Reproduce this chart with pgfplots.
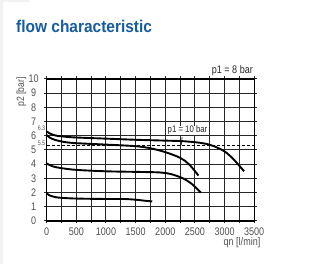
\documentclass[border=0pt]{standalone}
\usepackage{fontspec}
\setmainfont{Liberation Sans}[FakeStretch=0.82]
\newfontfamily\titlefont{Liberation Sans}[FakeStretch=0.91]
\usepackage{pgfplots}
\pgfplotsset{compat=1.18}
\definecolor{titleblue}{RGB}{22,92,160}
\definecolor{lbl}{RGB}{80,80,80}
\definecolor{gridc}{RGB}{40,40,40}
\begin{document}
\begin{tikzpicture}[x=1pt,y=1pt]
\useasboundingbox (0,0) rectangle (320,264);
\fill[gray!10] (0,0) rectangle (2.5,264);
\fill[gray!10] (0,261.5) rectangle (30,264);
\node[anchor=base west, inner sep=0, text=titleblue, font=\titlefont\fontsize{17}{20}\selectfont\bfseries] at (16,231) {flow characteristic};
\begin{axis}[
  at={(46.7pt,43pt)}, anchor=south west,
  scale only axis, width=207.5pt, height=142pt,
  xmin=0, xmax=3500, ymin=0, ymax=10,
  xtick={0,250,...,3500},
  xticklabels={0,,500,,1000,,1500,,2000,,2500,,3000,,3500},
  ytick={0,1,...,10},
  grid=major,
  grid style={gridc, line width=1pt},
  axis line style={black, line width=1.2pt},
  tick style={gridc, line width=1pt},
  tick align=outside, major tick length=2.5pt,
  /pgf/number format/assume math mode=true,
  ticklabel style={text=lbl, font=\fontsize{11}{12}\selectfont, inner sep=0pt},
  xticklabel style={anchor=north, yshift=-4pt},
  yticklabel style={anchor=center, xshift=-10.5pt},
  clip=false,
]
\addplot[black, line width=0.9pt, dash pattern=on 3pt off 2pt] coordinates {(0,5.3) (3500,5.3)};
\addplot[black, line width=1.9pt, smooth] coordinates {
 (0,6.3) (60,6.15) (150,6.02) (300,5.94) (500,5.88) (1000,5.8) (1500,5.72) (2000,5.66) (2300,5.62) (2600,5.5) (2800,5.3) (3000,4.9) (3150,4.35) (3330,3.5)};
\addplot[black, line width=1.9pt, smooth] coordinates {
 (0,6.05) (60,5.85) (150,5.7) (300,5.56) (500,5.48) (1000,5.38) (1500,5.27) (1750,5.12) (2000,4.85) (2250,4.45) (2400,4.0) (2560,3.2)};
\addplot[black, line width=1.9pt, smooth] coordinates {
 (0,4.05) (100,3.85) (250,3.72) (500,3.6) (1000,3.5) (1500,3.46) (1900,3.42) (2100,3.3) (2300,3.0) (2450,2.6) (2600,2.0)};
\addplot[black, line width=1.9pt, smooth] coordinates {
 (0,1.95) (50,1.8) (150,1.68) (250,1.63) (500,1.58) (1000,1.55) (1300,1.55) (1500,1.5) (1650,1.43) (1780,1.38)};
\draw[black, line width=0.6pt] (axis cs:2285,5.93) -- (axis cs:2270,5.35);
\end{axis}
\node[anchor=base east, inner sep=0, font=\fontsize{11}{12}\selectfont, text=black!85] at (253,190) {p1 = 8 bar};
\node[anchor=base west, inner sep=0, font=\fontsize{9.5}{10}\selectfont, text=black!85, fill=white, inner xsep=0.5pt] at (167,131) {p1 = 10 bar};
\node[anchor=east, rotate=90, inner sep=0, font=\fontsize{10.5}{12}\selectfont, text=lbl] at (21.5,187) {p2 [bar]};
\node[anchor=center, inner sep=0, font=\fontsize{11}{12}\selectfont, text=lbl] at (242,21) {qn [l/min]};
\node[anchor=center, inner sep=0, font=\fontsize{6.5}{8}\selectfont, text=lbl] at (41.5,135.5) {6.3};
\node[anchor=center, inner sep=0, font=\fontsize{6.5}{8}\selectfont, text=lbl] at (41.5,120.5) {5.5};
\end{tikzpicture}
\end{document}
